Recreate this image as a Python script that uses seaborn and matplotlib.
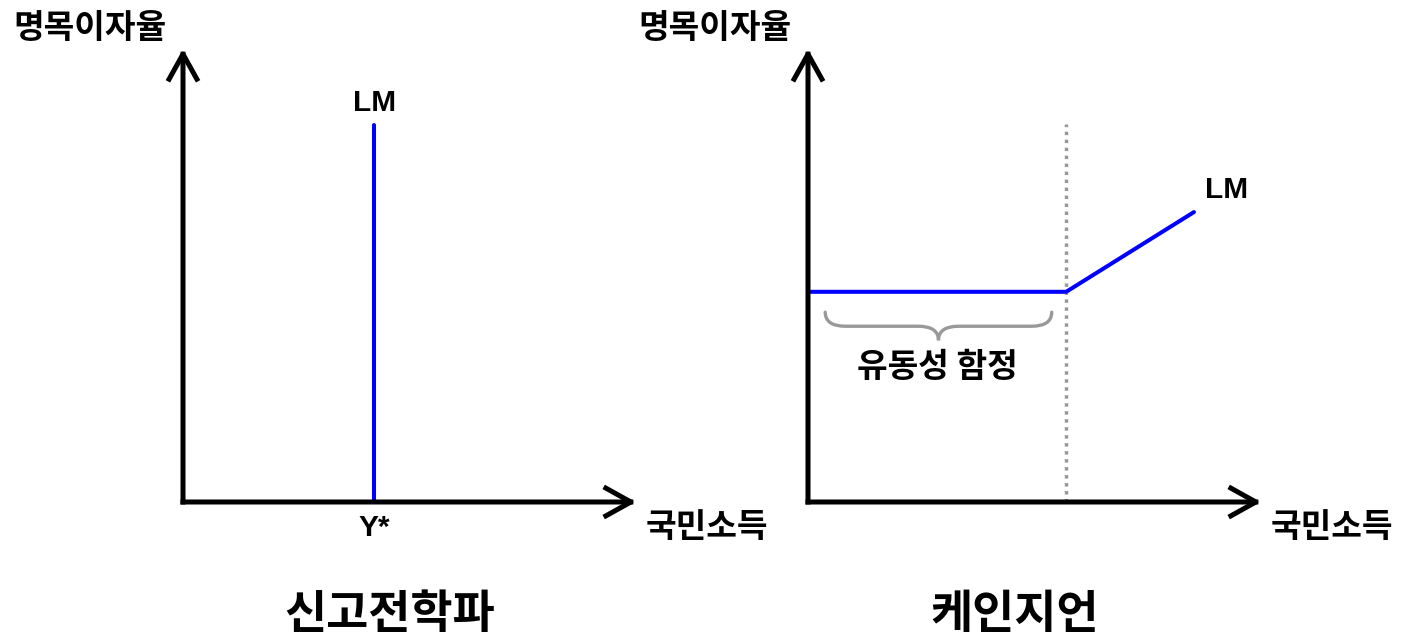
import numpy as np
import pandas as pd
import seaborn as sns
from matplotlib import pyplot as plt
from matplotlib.path import Path
from matplotlib.patches import PathPatch

# classical LM: vertical at full-employment income Y*
classical_income = [4.22, 4.22]
classical_rate = [0.0, 8.32]

# keynesian LM: flat (liquidity trap) then rising
keynes_income = [0.0, 5.7, 8.52]
keynes_rate = [4.64, 4.64, 6.4]
trap_end = 5.7
trap_guide_top = 8.34

titles = ["신고전학파", "케인지언"]
y_label = "명목이자율"
x_label = "국민소득"
trap_label = "유동성 함정"

sns.set_theme(style="white")
plt.rcParams["font.family"] = ["Liberation Sans", "Noto Sans CJK KR"]
plt.rcParams["text.color"] = "black"
KR = ["Noto Sans CJK KR", "Liberation Sans"]
BLUE = "#0000ff"
GREY = "#999999"

fig = plt.figure(figsize=(14.09, 6.42), dpi=100)
ax1 = fig.add_axes([183 / 1409, 140 / 642, 453 / 1409, 453 / 642])
ax2 = fig.add_axes([808 / 1409, 140 / 642, 453 / 1409, 453 / 642])


def draw_axes(ax, title):
    ax.set_xlim(0, 10)
    ax.set_ylim(0, 10)
    ax.axis("off")
    arrow = dict(arrowstyle="->,head_length=0.9,head_width=0.5", lw=3.6,
                 color="black", shrinkA=0, shrinkB=0, mutation_scale=20,
                 capstyle="projecting", joinstyle="round")
    ax.annotate("", xy=(1, 0), xytext=(0, 0), xycoords="axes fraction",
                arrowprops=arrow, annotation_clip=False)
    ax.annotate("", xy=(0, 1), xytext=(0, 0), xycoords="axes fraction",
                arrowprops=arrow, annotation_clip=False)
    ax.text(-2.05, 10.46, y_label, family=KR, weight="bold", fontsize=24,
            ha="center", va="center", clip_on=False)
    ax.text(11.57, -0.57, x_label, family=KR, weight="bold", fontsize=24,
            ha="center", va="center", clip_on=False)
    ax.text(4.57, -2.49, title, family=KR, weight="bold", fontsize=33,
            ha="center", va="center", clip_on=False)


def brace(ax, x0, x1, y, depth=0.62, r=0.45, **kw):
    mid = (x0 + x1) / 2
    h = depth / 2
    verts = [(x0, y), (x0, y - h), (x0 + r, y - h),
             (mid - r, y - h),
             (mid, y - h), (mid, y - depth),
             (mid, y - h), (mid + r, y - h),
             (x1 - r, y - h),
             (x1, y - h), (x1, y)]
    codes = [Path.MOVETO, Path.CURVE3, Path.CURVE3,
             Path.LINETO,
             Path.CURVE3, Path.CURVE3,
             Path.CURVE3, Path.CURVE3,
             Path.LINETO,
             Path.CURVE3, Path.CURVE3]
    ax.add_patch(PathPatch(Path(verts, codes), fill=False, **kw))


draw_axes(ax1, titles[0])
draw_axes(ax2, titles[1])

# left panel
left = pd.DataFrame({"income": classical_income, "rate": classical_rate})
sns.lineplot(data=left, x="income", y="rate", estimator=None, sort=False,
             color=BLUE, lw=2.9, ax=ax1)
ax1.text(classical_income[0], classical_rate[1] + 0.49, "LM", weight="bold",
         fontsize=21.5, ha="center", va="center")
ax1.text(classical_income[0], -0.57, "Y*", weight="bold", fontsize=21.5,
         ha="center", va="center", clip_on=False)

# right panel
ax2.plot([trap_end, trap_end], [0, trap_guide_top], color=GREY, lw=2.5,
         ls=(0, (1, 1.3)))
right = pd.DataFrame({"income": keynes_income, "rate": keynes_rate})
sns.lineplot(data=right, x="income", y="rate", estimator=None, sort=False,
             color=BLUE, lw=2.9, ax=ax2)
ax2.text(keynes_income[-1] + 0.73, keynes_rate[-1] + 0.49, "LM",
         weight="bold", fontsize=21.5, ha="center", va="center")
brace(ax2, 0.38, trap_end - 0.32, keynes_rate[0] - 0.45, color=GREY, lw=2.4,
      capstyle="round")
ax2.text(trap_end / 2, 2.98, trap_label, family=KR, weight="bold",
         fontsize=24, ha="center", va="center")

fig.savefig("out.png", dpi=100)
